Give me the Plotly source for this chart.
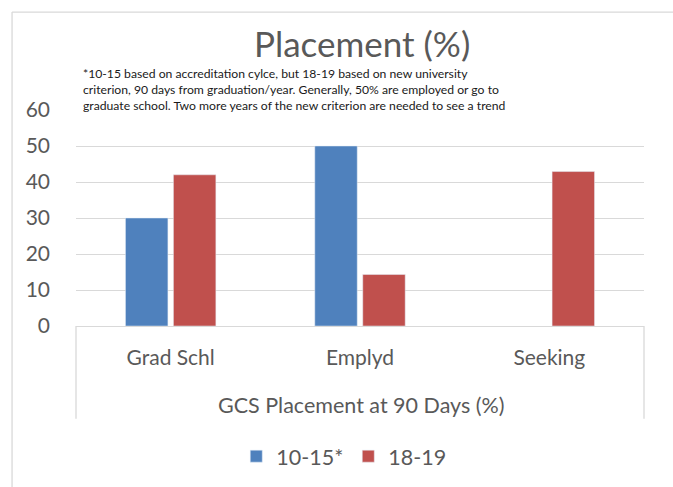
import plotly.graph_objects as go

categories = ["Grad Schl", "Emplyd", "Seeking"]
series_names = ["10-15*", "18-19"]
values_1015 = [30, 50, None]
values_1819 = [42, 14.3, 42.9]
y_ticks = [0, 10, 20, 30, 40, 50, 60]
title_text = "Placement (%)"
note_text = ("*10-15 based on accreditation cylce, but 18-19 based on new university<br>"
             "criterion, 90 days from graduation/year. Generally, 50% are employed or go to<br>"
             "graduate school. Two more years of the new criterion are needed to see a trend")
x_title = "GCS Placement at 90 Days (%)"

FONT = "Lato"
GRAY = "#595959"
GRID = "#d9d9d9"

fig = go.Figure()
fig.add_trace(go.Bar(x=categories, y=values_1015, name=series_names[0],
                     marker=dict(color="#4F81BD")))
fig.add_trace(go.Bar(x=categories, y=values_1819, name=series_names[1],
                     marker=dict(color="#C0504D")))

W, H = 673, 487
L, R, T, B = 76, 28.5, 109.5, 160.3
pw = W - L - R
ph = H - T - B

def px2x(px):
    return (px - L) / pw

def py2y(py):
    return (H - B - py) / ph

fig.update_layout(
    width=W, height=H,
    margin=dict(l=L, r=R, t=T, b=B, pad=0),
    paper_bgcolor="white", plot_bgcolor="white",
    barmode="group", bargap=0.4934, bargroupgap=0.115,
    font=dict(family=FONT, color=GRAY),
    showlegend=True,
    legend=dict(orientation="h", x=px2x(344), xanchor="center",
                y=py2y(456), yanchor="middle",
                font=dict(size=21.5, color=GRAY, family=FONT),
                itemwidth=30, traceorder="normal"),
    xaxis=dict(tickmode="array", tickvals=categories, ticktext=categories,
               showgrid=False, showline=True, linecolor=GRID, linewidth=1,
               ticks="", tickfont=dict(size=21, color=GRAY, family=FONT),
               ticklabelstandoff=13, zeroline=False),
    yaxis=dict(range=[0, 60], tickvals=y_ticks, showgrid=True, gridcolor=GRID,
               gridwidth=1.3, zeroline=False, showline=False, ticks="",
               tickfont=dict(size=21, color=GRAY, family=FONT),
               ticklabelstandoff=25),
)

shapes = [
    dict(type="line", xref="paper", yref="paper", x0=0, x1=0, y0=0, y1=py2y(420),
         line=dict(color=GRID, width=1.3)),
    dict(type="line", xref="paper", yref="paper", x0=1, x1=1, y0=0, y1=py2y(420),
         line=dict(color=GRID, width=1.3)),
    dict(type="line", xref="paper", yref="paper", x0=px2x(12), x1=px2x(12),
         y0=py2y(11), y1=py2y(490), line=dict(color=GRID, width=1.3)),
    dict(type="line", xref="paper", yref="paper", x0=px2x(12), x1=px2x(676),
         y0=py2y(11), y1=py2y(11), line=dict(color=GRID, width=1.3)),
]
fig.update_layout(shapes=shapes)

fig.add_annotation(text=title_text, xref="paper", yref="paper",
                   x=px2x(362), y=py2y(42), xanchor="center", yanchor="middle",
                   showarrow=False, font=dict(size=35, color=GRAY, family=FONT))
fig.add_annotation(text=note_text, xref="paper", yref="paper",
                   x=px2x(78), y=py2y(60), xanchor="left", yanchor="top",
                   align="left", showarrow=False, bgcolor="white", borderpad=4,
                   font=dict(size=12.2, color="#1a1a1a", family=FONT))
fig.add_annotation(text=x_title, xref="paper", yref="paper",
                   x=px2x(361), y=py2y(406), xanchor="center", yanchor="middle",
                   showarrow=False, font=dict(size=21.5, color=GRAY, family=FONT))

fig.write_html("out.html", config={"displayModeBar": False},
               post_script="document.body.style.margin='0';")
